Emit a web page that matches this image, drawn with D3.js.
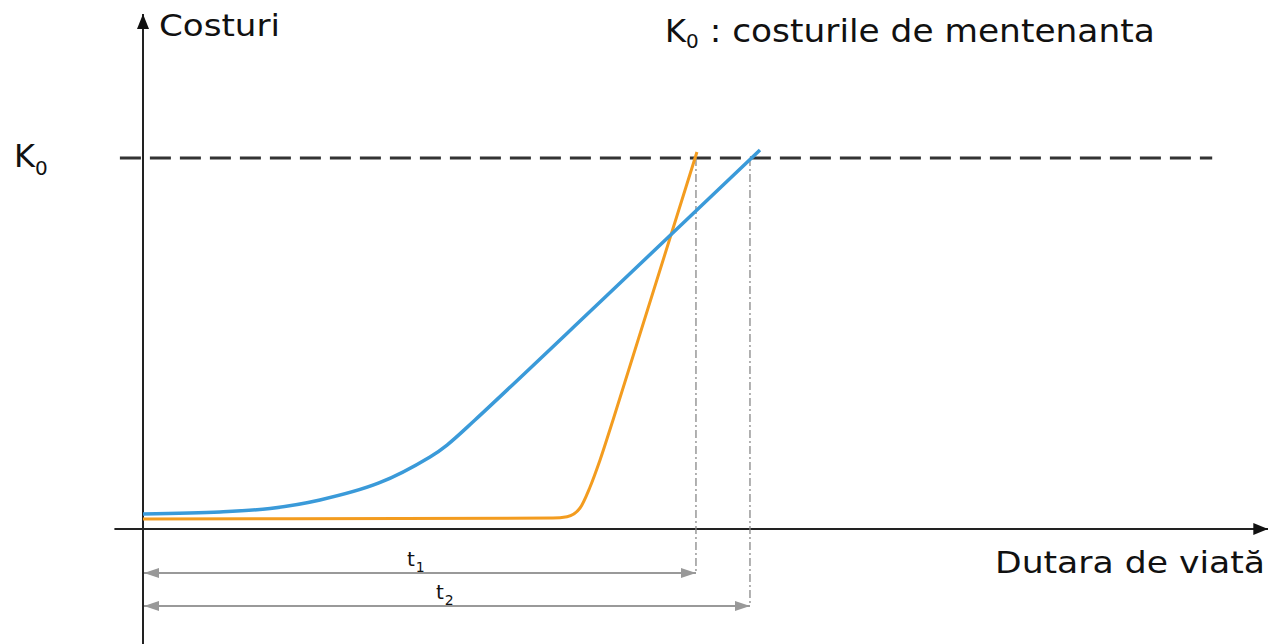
<!DOCTYPE html>
<html><head><meta charset="utf-8">
<script src="https://cdn.jsdelivr.net/npm/d3@7"></script>
<style>
body{margin:0;background:#fff;}
text{font-family:"DejaVu Sans",Verdana,sans-serif;fill:#111;}
</style>
</head><body>
<svg id="chart" width="1268" height="644"></svg>
<script>
// ---- data (abstract units: time 0..100, cost 0..100 where K0 = 100) ----
const blueTime  = [0, 7, 11.55, 16.09, 21.45, 26.09, 27.64, 30.18, 41.55, 56.09];
const blueCost  = [4.04, 4.58, 5.53, 7.82, 12.4, 19.41, 22.64, 29.38, 61.19, 102.16];
const orangeTime = [0, 37.27, 38.55, 39.73, 40.64, 41.55, 42.73, 50.36];
const orangeCost = [2.70, 2.96, 3.32, 5.66, 11.32, 18.60, 29.38, 101.62];
const K0 = 100;
const t1 = 50.27;
const t2 = 55.18;
const labels = {y: "Costuri", x: "Dutara de viată", legend: " : costurile de mentenanta", k: "K", sub: "0"};

const svg = d3.select("#chart");
const x = d3.scaleLinear().domain([0, 100]).range([143, 1243]);
const y = d3.scaleLinear().domain([0, 100]).range([529, 158]);

const defs = svg.append("defs");
function marker(id, color, w, h, refX) {
  defs.append("marker").attr("id", id).attr("viewBox", `0 0 ${w} ${h}`)
    .attr("refX", refX).attr("refY", h/2).attr("markerWidth", w).attr("markerHeight", h)
    .attr("markerUnits", "userSpaceOnUse").attr("orient", "auto-start-reverse")
    .append("path").attr("d", `M0,0L${w},${h/2}L0,${h}Z`).attr("fill", color);
}
marker("axArrow", "#111", 15, 12, 15);
marker("tArrow", "#999", 15, 10, 15);

// K0 dashed line
svg.append("line").attr("x1", x(-2.1)).attr("x2", x(97.2)).attr("y1", y(K0)).attr("y2", y(K0))
  .attr("stroke", "#333").attr("stroke-width", 3).attr("stroke-dasharray", "21,9");

// axes
svg.append("line").attr("x1", x(-2.6)).attr("x2", x(102.3)).attr("y1", y(0)).attr("y2", y(0))
  .attr("stroke", "#222").attr("stroke-width", 2).attr("marker-end", "url(#axArrow)");
svg.append("line").attr("x1", x(0)).attr("x2", x(0)).attr("y1", 644).attr("y2", 14)
  .attr("stroke", "#222").attr("stroke-width", 2).attr("marker-end", "url(#axArrow)");

// dimension lines
const arrowY = {t1: -11.86, t2: -20.75};
[[t1, arrowY.t1], [t2, arrowY.t2]].forEach(([tv, ay]) => {
  svg.append("line").attr("x1", x(tv)).attr("x2", x(tv)).attr("y1", y(K0)).attr("y2", y(ay))
    .attr("stroke", "#888").attr("stroke-width", 1.3).attr("stroke-dasharray", "8,3,2,3");
  svg.append("line").attr("x1", x(0) + 1).attr("x2", x(tv)).attr("y1", y(ay)).attr("y2", y(ay))
    .attr("stroke", "#999").attr("stroke-width", 2)
    .attr("marker-start", "url(#tArrow)").attr("marker-end", "url(#tArrow)");
});

// curves
const lineO = d3.line().x(d => x(d[0])).y(d => y(d[1])).curve(d3.curveMonotoneX);
const lineB = d3.line().x(d => x(d[0])).y(d => y(d[1])).curve(d3.curveCatmullRom.alpha(0.5));
svg.append("path").datum(orangeTime.map((t, i) => [t, orangeCost[i]]))
  .attr("d", lineO).attr("fill", "none").attr("stroke", "#f39c1f").attr("stroke-width", 3);
svg.append("path").datum(blueTime.map((t, i) => [t, blueCost[i]]))
  .attr("d", lineB).attr("fill", "none").attr("stroke", "#3a9ad9").attr("stroke-width", 3.5);

// texts
svg.append("text").attr("x", 159).attr("y", 36).attr("font-size", 31)
  .attr("textLength", 121).attr("lengthAdjust", "spacingAndGlyphs").text(labels.y);
svg.append("text").attr("x", 995).attr("y", 573).attr("font-size", 31)
  .attr("textLength", 270).attr("lengthAdjust", "spacingAndGlyphs").text(labels.x);

const lg = svg.append("text").attr("x", 665).attr("y", 42).attr("font-size", 32);
lg.append("tspan").text(labels.k);
lg.append("tspan").attr("font-size", 20).attr("dy", 6).text(labels.sub);
lg.append("tspan").attr("dy", -6).attr("textLength", 456).attr("lengthAdjust", "spacingAndGlyphs").text(labels.legend);

const kl = svg.append("text").attr("x", 14).attr("y", 167).attr("font-size", 32);
kl.append("tspan").text(labels.k);
kl.append("tspan").attr("font-size", 20).attr("dy", 8).text(labels.sub);

function tlabel(px, py, sub) {
  const t = svg.append("text").attr("x", px).attr("y", py).attr("font-size", 20);
  t.append("tspan").text("t");
  t.append("tspan").attr("font-size", 14).attr("dy", 6).attr("dx", 1).text(sub);
}
tlabel(407, 566, "1");
tlabel(436, 599, "2");
</script>
</body></html>
